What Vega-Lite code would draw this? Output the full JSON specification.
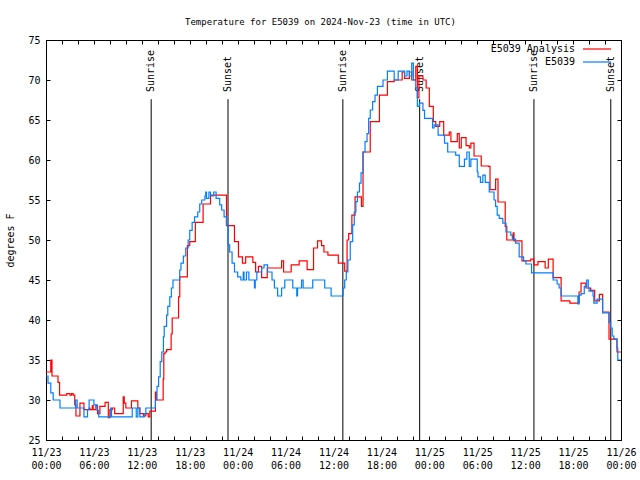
{
  "$schema": "https://vega.github.io/schema/vega-lite/v6.json",
  "width": 575,
  "height": 400,
  "autosize": "none",
  "padding": {"left": 46, "top": 40, "right": 19, "bottom": 40},
  "background": "white",
  "title": {"text": "Temperature for E5039 on 2024-Nov-23 (time in UTC)", "font": "DejaVu Sans Mono", "fontSize": 9, "fontWeight": "normal", "color": "black", "anchor": "middle", "offset": 8, "dx": -13},
  "config": {
    "view": {"stroke": "black", "strokeWidth": 1},
    "axis": {"domainColor": "black", "tickColor": "black", "labelColor": "black", "labelFont": "DejaVu Sans Mono", "labelFontSize": 10, "titleFont": "DejaVu Sans Mono", "titleFontSize": 10, "titleFontWeight": "normal", "titleColor": "black", "grid": false, "labelFlush": false, "labelOverlap": false, "labelBound": false}
  },
  "datasets": {
    "analysis": [
      {"h": 0.0, "t": 33.5}, {"h": 0.6, "t": 35.0}, {"h": 0.75, "t": 33.0}, {"h": 1.5, "t": 32.2}, {"h": 1.7, "t": 30.6},
      {"h": 2.6, "t": 30.8}, {"h": 3.0, "t": 30.6}, {"h": 3.2, "t": 30.8}, {"h": 3.4, "t": 30.6}, {"h": 3.6, "t": 29.4},
      {"h": 3.75, "t": 28.0}, {"h": 4.25, "t": 29.6}, {"h": 4.75, "t": 28.8}, {"h": 5.4, "t": 29.0}, {"h": 5.5, "t": 28.8},
      {"h": 5.8, "t": 29.3}, {"h": 5.9, "t": 28.8}, {"h": 6.25, "t": 29.3}, {"h": 6.45, "t": 28.3}, {"h": 6.75, "t": 29.2},
      {"h": 7.4, "t": 29.7}, {"h": 7.8, "t": 27.8}, {"h": 8.0, "t": 28.8}, {"h": 8.3, "t": 29.0}, {"h": 8.6, "t": 28.3},
      {"h": 9.67, "t": 30.4}, {"h": 9.8, "t": 29.6}, {"h": 10.0, "t": 29.0}, {"h": 10.7, "t": 29.9}, {"h": 11.5, "t": 29.0},
      {"h": 11.75, "t": 28.3}, {"h": 12.2, "t": 28.0}, {"h": 12.5, "t": 28.3}, {"h": 12.8, "t": 27.9}, {"h": 13.0, "t": 28.6},
      {"h": 13.7, "t": 31.0}, {"h": 13.8, "t": 30.0}, {"h": 14.67, "t": 32.6}, {"h": 14.75, "t": 35.8}, {"h": 14.9, "t": 36.0},
      {"h": 15.1, "t": 36.3}, {"h": 15.67, "t": 38.25}, {"h": 15.8, "t": 40.25}, {"h": 16.6, "t": 42.9}, {"h": 16.75, "t": 45.4},
      {"h": 17.7, "t": 49.3}, {"h": 18.0, "t": 49.8}, {"h": 18.7, "t": 52.2}, {"h": 19.67, "t": 54.5}, {"h": 20.6, "t": 55.6},
      {"h": 22.6, "t": 51.8}, {"h": 23.6, "t": 49.8}, {"h": 24.1, "t": 47.9}, {"h": 24.6, "t": 47.1}, {"h": 25.0, "t": 47.9},
      {"h": 25.9, "t": 47.2}, {"h": 26.25, "t": 46.0}, {"h": 26.6, "t": 46.7}, {"h": 27.0, "t": 45.3}, {"h": 27.7, "t": 46.5},
      {"h": 29.5, "t": 47.4}, {"h": 29.75, "t": 46.0}, {"h": 30.7, "t": 46.9}, {"h": 31.7, "t": 47.4}, {"h": 32.7, "t": 46.3},
      {"h": 33.5, "t": 49.0}, {"h": 34.0, "t": 49.9}, {"h": 34.5, "t": 49.3}, {"h": 34.8, "t": 48.5}, {"h": 35.3, "t": 48.1},
      {"h": 36.6, "t": 47.1}, {"h": 37.4, "t": 46.1}, {"h": 37.7, "t": 50.0}, {"h": 37.9, "t": 50.8}, {"h": 38.3, "t": 53.1},
      {"h": 38.7, "t": 55.4}, {"h": 39.5, "t": 54.2}, {"h": 39.7, "t": 61.0}, {"h": 40.6, "t": 64.8}, {"h": 41.75, "t": 68.1},
      {"h": 42.75, "t": 69.8}, {"h": 43.6, "t": 70.0}, {"h": 44.6, "t": 71.0}, {"h": 44.9, "t": 70.2}, {"h": 45.5, "t": 71.0},
      {"h": 45.8, "t": 70.0}, {"h": 46.3, "t": 71.7}, {"h": 46.5, "t": 67.8}, {"h": 46.7, "t": 70.5}, {"h": 47.2, "t": 70.0},
      {"h": 47.6, "t": 69.0}, {"h": 48.0, "t": 66.7}, {"h": 48.5, "t": 64.8}, {"h": 48.8, "t": 64.2}, {"h": 49.3, "t": 64.8},
      {"h": 49.8, "t": 63.1}, {"h": 50.5, "t": 63.5}, {"h": 50.7, "t": 62.3}, {"h": 51.5, "t": 63.3}, {"h": 51.75, "t": 61.5},
      {"h": 52.0, "t": 62.8}, {"h": 52.6, "t": 61.8}, {"h": 53.0, "t": 61.5}, {"h": 53.2, "t": 62.1}, {"h": 53.6, "t": 60.5},
      {"h": 54.5, "t": 59.25}, {"h": 55.4, "t": 59.2}, {"h": 55.6, "t": 56.3}, {"h": 56.3, "t": 57.6}, {"h": 56.6, "t": 54.75},
      {"h": 57.5, "t": 51.7}, {"h": 57.7, "t": 50.0}, {"h": 58.5, "t": 50.9}, {"h": 58.6, "t": 49.9}, {"h": 59.6, "t": 47.4},
      {"h": 60.7, "t": 47.6}, {"h": 61.1, "t": 46.9}, {"h": 61.6, "t": 47.3}, {"h": 62.5, "t": 46.5}, {"h": 62.9, "t": 47.6},
      {"h": 63.5, "t": 45.3}, {"h": 64.5, "t": 42.4}, {"h": 65.6, "t": 42.1}, {"h": 66.75, "t": 43.5}, {"h": 67.0, "t": 44.6},
      {"h": 67.6, "t": 44.0}, {"h": 68.2, "t": 43.7}, {"h": 68.7, "t": 42.4}, {"h": 69.3, "t": 43.2}, {"h": 69.7, "t": 41.0},
      {"h": 70.5, "t": 37.6}, {"h": 71.5, "t": 36.0}, {"h": 72.0, "t": 36.0}
    ],
    "observed": [
      {"h": 0.0, "t": 33.0}, {"h": 0.25, "t": 32.1}, {"h": 0.6, "t": 30.9}, {"h": 0.9, "t": 30.0}, {"h": 1.75, "t": 29.0},
      {"h": 3.7, "t": 30.0}, {"h": 3.9, "t": 29.0}, {"h": 4.75, "t": 27.9}, {"h": 5.2, "t": 28.8}, {"h": 5.4, "t": 30.0},
      {"h": 6.0, "t": 29.4}, {"h": 6.4, "t": 28.7}, {"h": 6.6, "t": 27.9}, {"h": 8.1, "t": 29.0}, {"h": 8.2, "t": 27.9},
      {"h": 10.8, "t": 29.0}, {"h": 11.3, "t": 27.9}, {"h": 11.5, "t": 29.0}, {"h": 11.75, "t": 27.9}, {"h": 12.3, "t": 28.3},
      {"h": 12.5, "t": 29.0}, {"h": 13.7, "t": 30.0}, {"h": 13.9, "t": 31.7}, {"h": 14.1, "t": 32.9}, {"h": 14.3, "t": 34.8},
      {"h": 14.5, "t": 36.0}, {"h": 14.7, "t": 37.9}, {"h": 14.8, "t": 39.2}, {"h": 15.1, "t": 40.6}, {"h": 15.25, "t": 41.7},
      {"h": 15.5, "t": 42.9}, {"h": 15.7, "t": 44.0}, {"h": 15.9, "t": 45.0}, {"h": 16.75, "t": 46.25}, {"h": 16.9, "t": 47.1},
      {"h": 17.2, "t": 48.0}, {"h": 17.5, "t": 49.0}, {"h": 17.8, "t": 50.0}, {"h": 18.0, "t": 51.2}, {"h": 18.3, "t": 52.2},
      {"h": 18.6, "t": 52.9}, {"h": 19.0, "t": 53.5}, {"h": 19.25, "t": 54.5}, {"h": 19.5, "t": 55.0}, {"h": 19.9, "t": 55.5},
      {"h": 20.0, "t": 56.0}, {"h": 20.1, "t": 55.2}, {"h": 20.4, "t": 56.0}, {"h": 20.6, "t": 55.5}, {"h": 21.0, "t": 56.0},
      {"h": 21.3, "t": 55.2}, {"h": 21.75, "t": 54.4}, {"h": 22.0, "t": 53.75}, {"h": 22.3, "t": 52.9}, {"h": 22.6, "t": 51.9},
      {"h": 22.8, "t": 49.4}, {"h": 23.0, "t": 48.5}, {"h": 23.3, "t": 47.1}, {"h": 23.6, "t": 46.0}, {"h": 24.0, "t": 45.4},
      {"h": 24.4, "t": 45.0}, {"h": 24.7, "t": 46.0}, {"h": 24.8, "t": 45.0}, {"h": 25.1, "t": 46.0}, {"h": 25.4, "t": 45.0},
      {"h": 26.1, "t": 44.0}, {"h": 26.2, "t": 45.0}, {"h": 26.4, "t": 46.0}, {"h": 27.0, "t": 46.5}, {"h": 27.3, "t": 46.9},
      {"h": 27.75, "t": 46.0}, {"h": 28.3, "t": 45.0}, {"h": 28.6, "t": 44.0}, {"h": 29.0, "t": 43.0}, {"h": 29.5, "t": 44.0},
      {"h": 29.9, "t": 45.0}, {"h": 30.9, "t": 44.0}, {"h": 31.4, "t": 43.0}, {"h": 31.5, "t": 44.0}, {"h": 32.0, "t": 45.0},
      {"h": 32.2, "t": 44.0}, {"h": 33.4, "t": 45.0}, {"h": 34.9, "t": 44.0}, {"h": 35.7, "t": 43.0}, {"h": 37.2, "t": 44.0},
      {"h": 37.4, "t": 45.0}, {"h": 37.6, "t": 46.0}, {"h": 37.8, "t": 47.5}, {"h": 38.1, "t": 49.8}, {"h": 38.4, "t": 51.9},
      {"h": 38.6, "t": 53.5}, {"h": 38.8, "t": 54.8}, {"h": 39.0, "t": 56.0}, {"h": 39.25, "t": 57.1}, {"h": 39.45, "t": 58.4},
      {"h": 39.7, "t": 61.0}, {"h": 39.95, "t": 62.3}, {"h": 40.2, "t": 63.3}, {"h": 40.4, "t": 65.2}, {"h": 40.6, "t": 66.25},
      {"h": 40.9, "t": 67.3}, {"h": 41.2, "t": 68.1}, {"h": 41.5, "t": 69.2}, {"h": 42.2, "t": 70.0}, {"h": 42.75, "t": 71.1},
      {"h": 43.6, "t": 70.0}, {"h": 44.1, "t": 71.1}, {"h": 44.9, "t": 70.5}, {"h": 45.2, "t": 71.1}, {"h": 45.5, "t": 70.5},
      {"h": 45.8, "t": 72.1}, {"h": 46.0, "t": 70.0}, {"h": 46.3, "t": 69.0}, {"h": 46.5, "t": 66.7}, {"h": 46.75, "t": 67.1},
      {"h": 47.2, "t": 66.2}, {"h": 47.4, "t": 65.2}, {"h": 48.4, "t": 64.0}, {"h": 48.6, "t": 64.4}, {"h": 49.1, "t": 63.1},
      {"h": 49.9, "t": 62.1}, {"h": 50.3, "t": 61.0}, {"h": 51.3, "t": 60.6}, {"h": 51.75, "t": 59.2}, {"h": 52.4, "t": 60.1},
      {"h": 52.7, "t": 61.0}, {"h": 53.0, "t": 59.2}, {"h": 53.2, "t": 60.1}, {"h": 54.0, "t": 58.5}, {"h": 54.1, "t": 57.9},
      {"h": 54.4, "t": 57.2}, {"h": 54.7, "t": 58.1}, {"h": 55.0, "t": 57.2}, {"h": 55.5, "t": 56.0}, {"h": 56.1, "t": 55.0},
      {"h": 56.3, "t": 54.2}, {"h": 56.5, "t": 53.1}, {"h": 56.75, "t": 52.7}, {"h": 57.2, "t": 52.1}, {"h": 57.6, "t": 51.0},
      {"h": 58.2, "t": 50.6}, {"h": 58.4, "t": 50.1}, {"h": 58.8, "t": 49.6}, {"h": 59.25, "t": 47.9}, {"h": 59.8, "t": 47.4},
      {"h": 60.1, "t": 47.0}, {"h": 60.8, "t": 45.9}, {"h": 63.5, "t": 45.0}, {"h": 64.0, "t": 44.5}, {"h": 64.25, "t": 44.0},
      {"h": 64.5, "t": 43.0}, {"h": 66.6, "t": 42.0}, {"h": 66.75, "t": 43.1}, {"h": 67.0, "t": 43.3}, {"h": 67.4, "t": 44.2},
      {"h": 67.7, "t": 45.0}, {"h": 67.9, "t": 44.0}, {"h": 68.0, "t": 43.6}, {"h": 68.5, "t": 43.0}, {"h": 68.6, "t": 42.1},
      {"h": 69.0, "t": 42.6}, {"h": 69.7, "t": 40.9}, {"h": 70.5, "t": 39.7}, {"h": 70.7, "t": 39.0}, {"h": 70.9, "t": 38.0},
      {"h": 71.1, "t": 37.6}, {"h": 71.5, "t": 36.5}, {"h": 71.6, "t": 35.0}, {"h": 72.0, "t": 35.0}
    ],
    "sun": [
      {"h": 13.17, "event": "Sunrise"}, {"h": 22.79, "event": "Sunset"},
      {"h": 37.17, "event": "Sunrise"}, {"h": 46.79, "event": "Sunset"},
      {"h": 61.1, "event": "Sunrise"}, {"h": 70.72, "event": "Sunset"}
    ]
  },
  "layer": [
    {
      "data": {"name": "sun"},
      "mark": {"type": "rule", "color": "black", "strokeWidth": 1},
      "encoding": {
        "x": {"field": "h", "type": "quantitative", "scale": {"domain": [0, 72], "nice": false, "zero": false},
          "axis": {"orient": "bottom", "title": null, "values": [0, 2, 4, 6, 8, 10, 12, 14, 16, 18, 20, 22, 24, 26, 28, 30, 32, 34, 36, 38, 40, 42, 44, 46, 48, 50, 52, 54, 56, 58, 60, 62, 64, 66, 68, 70, 72], "tickSize": -4, "labelPadding": 11, "labelLineHeight": 13,
            "labelExpr": "datum.value % 6 == 0 ? ['11/' + (23 + floor(datum.value / 24)), (datum.value % 24 < 10 ? '0' : '') + (datum.value % 24) + ':00'] : ''"}},
        "y": {"datum": 67.6, "type": "quantitative", "scale": {"domain": [25, 75], "nice": false, "zero": false},
          "axis": {"orient": "left", "title": "degrees F", "values": [25, 30, 35, 40, 45, 50, 55, 60, 65, 70, 75], "tickSize": -4, "labelPadding": 10, "titlePadding": 12}},
        "y2": {"datum": 25}
      }
    },
    {
      "data": {"name": "sun"},
      "mark": {"type": "text", "angle": 270, "align": "left", "baseline": "middle", "font": "DejaVu Sans Mono", "fontSize": 10, "color": "black"},
      "encoding": {
        "x": {"field": "h", "type": "quantitative", "axis": {"orient": "top", "title": null, "labels": false, "values": [0, 2, 4, 6, 8, 10, 12, 14, 16, 18, 20, 22, 24, 26, 28, 30, 32, 34, 36, 38, 40, 42, 44, 46, 48, 50, 52, 54, 56, 58, 60, 62, 64, 66, 68, 70, 72], "tickSize": -4}},
        "y": {"datum": 68.5, "type": "quantitative", "axis": {"orient": "right", "title": null, "labels": false, "values": [25, 30, 35, 40, 45, 50, 55, 60, 65, 70, 75], "tickSize": -4}},
        "text": {"field": "event"}
      }
    },
    {
      "data": {"name": "analysis"},
      "mark": {"type": "line", "interpolate": "step-after", "strokeWidth": 1.2},
      "encoding": {
        "x": {"field": "h", "type": "quantitative", "axis": null},
        "y": {"field": "t", "type": "quantitative", "axis": null},
        "color": {"datum": "E5039 Analysis", "type": "nominal",
          "scale": {"domain": ["E5039 Analysis", "E5039"], "range": ["#ff0000", "#0080ff"]},
          "legend": {"orient": "none", "legendX": 543, "legendY": 1, "title": null, "symbolType": "M-2,0H2", "symbolSize": 196, "symbolStrokeWidth": 1.2, "labelAlign": "right", "labelOffset": -30, "labelFont": "DejaVu Sans Mono", "labelFontSize": 10, "labelColor": "black", "rowPadding": -1, "padding": 0}}
      }
    },
    {
      "data": {"name": "observed"},
      "mark": {"type": "line", "interpolate": "step-after", "strokeWidth": 1.2},
      "encoding": {
        "x": {"field": "h", "type": "quantitative", "axis": null},
        "y": {"field": "t", "type": "quantitative", "axis": null},
        "color": {"datum": "E5039", "type": "nominal"}
      }
    }
  ],
  "resolve": {"axis": {"x": "independent", "y": "independent"}}
}
